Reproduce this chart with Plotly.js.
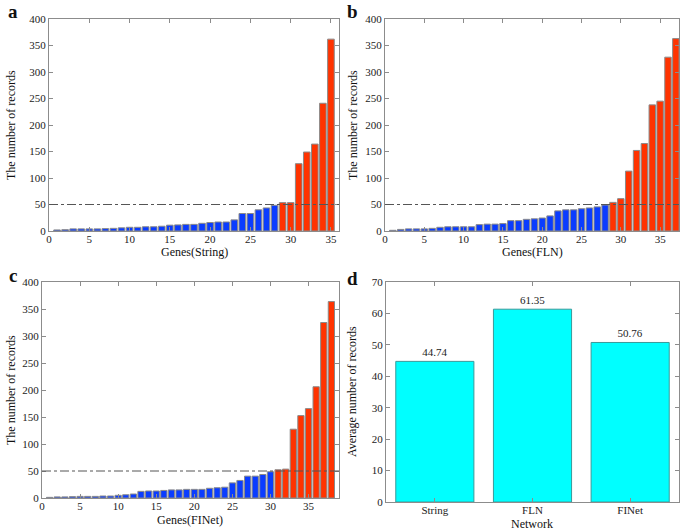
<!DOCTYPE html>
<html><head><meta charset="utf-8">
<script src="https://cdn.plot.ly/plotly-3.0.1.min.js"></script>
<style>body{margin:0;padding:0;background:#fff}#chart{width:685px;height:530px}</style>
</head><body><div id="chart"></div>
<script>
// Panel a: Genes(String)
const recordsString = [2,2.5,4,4,4,4,4.5,5,6,7,7,8,8,9,11,11.5,12.5,12.5,14.5,16,17,17,21,33,33,40,43.5,48.5,53.5,53.5,127,149,164,241,362];
// Panel b: Genes(FLN)
const recordsFLN = [1.3,3,4,4,4,5,7,8,8,8,8,12,13,13,14,19.5,19.5,22,23,24.5,28.5,38,40,40,42,43.5,45.5,49,54,61,113,152,165,238,245,328,363];
// Panel c: Genes(FINet)
const recordsFINet = [1.2,2,2,2.5,3,3,3,3.7,3.7,5,6,7.4,12.3,13,13,14,15,15,16,16,16,18,19,20,28,32.5,40.5,40.5,43.5,48.6,52.3,53.5,127.4,152.6,165.5,206,325,363.7];
// Panel d: averages
const networks = ["String","FLN","FINet"];
const averages = [44.74, 61.35, 50.76];
const threshold = 50;

const FONT = "Liberation Serif, Times New Roman, serif";
const BLUE = "#0a3cff", RED = "#ff3300", EDGE = "#8a8a8a", AX = "#8c8c8c";

function geneTrace(vals, xa, ya){
  return {
    type:"bar", x: vals.map((v,i)=>i+1), y: vals, xaxis:xa, yaxis:ya,
    marker:{color: vals.map(v=> v>threshold?RED:BLUE), line:{color:EDGE,width:1}},
    width:0.82, hoverinfo:"skip", showlegend:false
  };
}
const traces = [
  geneTrace(recordsString,"x","y"),
  geneTrace(recordsFLN,"x2","y2"),
  geneTrace(recordsFINet,"x3","y3"),
  {type:"bar", x:networks, y:averages, xaxis:"x4", yaxis:"y4",
   marker:{color:"#00ffff", line:{color:"#3a9a9a",width:1}}, width:0.8,
   text: averages.map(v=>v.toFixed(2)), textposition:"outside", cliponaxis:false,
   textfont:{family:FONT,size:11,color:"#222"}, hoverinfo:"skip", showlegend:false}
];

function ax(extra){
  return Object.assign({
    showline:true, linecolor:AX, linewidth:1, mirror:"ticks", ticks:"inside",
    ticklen:4, tickcolor:AX, showgrid:false, zeroline:false,
    tickfont:{family:FONT,size:11,color:"#222"}, fixedrange:true
  }, extra);
}
const W=685, H=530;
const dx = (a,b)=>[a/W, b/W];
const dy = (top,bot)=>[1-bot/H, 1-top/H];

const layout = {
  width:W, height:H, margin:{l:0,r:0,t:0,b:0},
  paper_bgcolor:"#fff", plot_bgcolor:"#fff", bargap:0.2,
  font:{family:FONT,size:11,color:"#222"},
  xaxis: ax({domain:dx(49,339), range:[0,36], tickvals:[0,5,10,15,20,25,30,35], anchor:"y", ticklabelstandoff:-2}),
  yaxis: ax({domain:dy(19,231), range:[0,400], dtick:50, anchor:"x"}),
  xaxis2: ax({domain:dx(385,679), range:[0,37.4], tickvals:[0,5,10,15,20,25,30,35], anchor:"y2", ticklabelstandoff:-2}),
  yaxis2: ax({domain:dy(19,231), range:[0,400], dtick:50, anchor:"x2"}),
  xaxis3: ax({domain:dx(42,339), range:[0,39], tickvals:[0,5,10,15,20,25,30,35], anchor:"y3", ticklabelstandoff:-2}),
  yaxis3: ax({domain:dy(282,498), range:[0,400], dtick:50, anchor:"x3"}),
  xaxis4: ax({domain:dx(386,679), range:[-0.5,2.5], type:"category", anchor:"y4", ticklabelstandoff:-2}),
  yaxis4: ax({domain:dy(282,502), range:[0,70], dtick:10, anchor:"x4"}),
  shapes: [["x","y"],["x2","y2"],["x3","y3"]].map(([xa,ya])=>({
    type:"line", xref:xa+" domain", yref:ya, x0:0, x1:1, y0:threshold, y1:threshold,
    line:{color:"#555",width:1,dash:"dashdot"}
  })),
  annotations: [
    {text:"<b>a</b>", x:13/W, y:1-12/H, font:{size:19}},
    {text:"<b>b</b>", x:352/W, y:1-12/H, font:{size:19}},
    {text:"<b>c</b>", x:13/W, y:1-275/H, font:{size:19}},
    {text:"<b>d</b>", x:352/W, y:1-278/H, font:{size:19}},
    {text:"Genes(String)", x:194/W, y:1-252/H, font:{size:12}},
    {text:"Genes(FLN)", x:532/W, y:1-252/H, font:{size:12}},
    {text:"Genes(FINet)", x:190/W, y:1-520/H, font:{size:12}},
    {text:"Network", x:532/W, y:1-524/H, font:{size:12}},
    {text:"The number of records", x:11/W, y:1-125/H, textangle:-90, font:{size:12}},
    {text:"The number of records", x:353/W, y:1-125/H, textangle:-90, font:{size:12}},
    {text:"The number of records", x:11/W, y:1-390/H, textangle:-90, font:{size:12}},
    {text:"Average number of records", x:352/W, y:1-392/H, textangle:-90, font:{size:12}}
  ].map(a=>Object.assign({xref:"paper",yref:"paper",showarrow:false,xanchor:"center",yanchor:"middle"},a,{font:Object.assign({family:FONT,color:"#111"},a.font)}))
};
Plotly.newPlot("chart", traces, layout, {staticPlot:true, displayModeBar:false});
</script></body></html>
